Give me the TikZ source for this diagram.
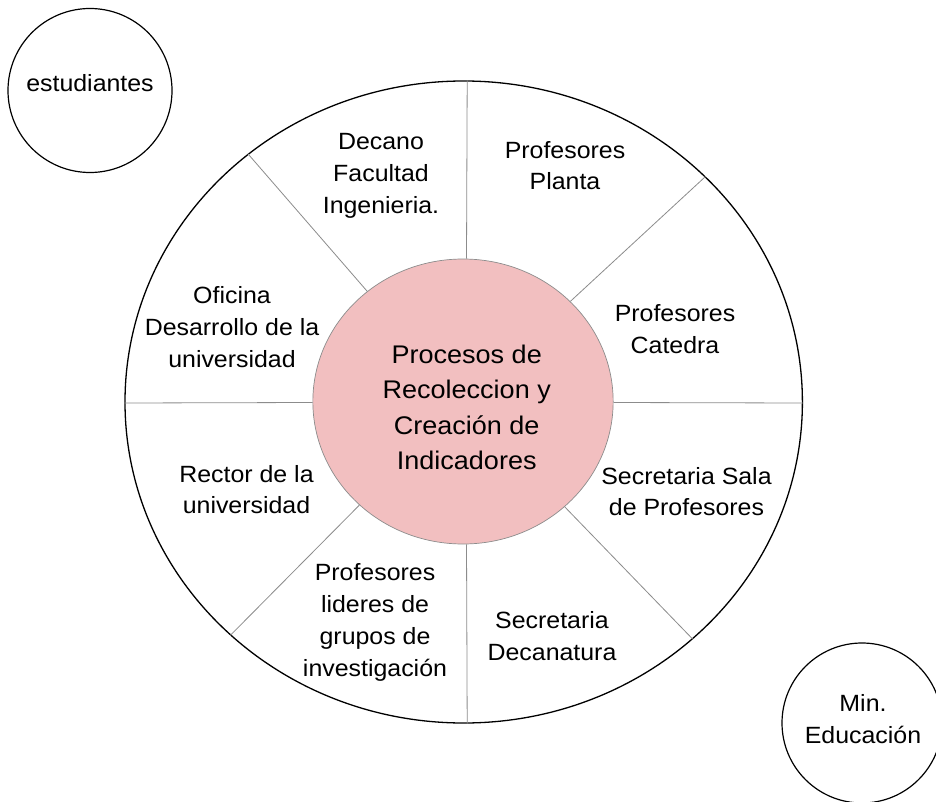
\documentclass[tikz,border=0pt]{standalone}
\usepackage{fontspec}
\setmainfont{Liberation Sans}[FakeStretch=1.06]
\usetikzlibrary{shapes.geometric}
\definecolor{pinkfill}{RGB}{242,191,192}
\definecolor{spokegray}{RGB}{140,140,140}
\tikzset{
  lbl/.style={anchor=base, align=center, inner sep=0pt, font=\fontsize{23.5pt}{31.7pt}\selectfont},
  ctr/.style={anchor=base, align=center, inner sep=0pt, font=\fontsize{25.5pt}{35.3pt}\selectfont},
  spoke/.style={draw=spokegray, line width=0.8pt},
  ring/.style={ellipse, draw=black, line width=1.3pt, inner sep=0pt},
  hub/.style={ellipse, draw=spokegray, line width=0.7pt, fill=pinkfill, inner sep=0pt},
  actor/.style={circle, draw=black, line width=1.2pt, inner sep=0pt}
}
\begin{document}
\begin{tikzpicture}[x=1pt,y=-1pt]
\useasboundingbox (0,0) rectangle (936,802);
\fill[white] (0,0) rectangle (936,802);
% outer ring
\node[ring, minimum width=677.4pt, minimum height=642pt] (outer) at (463.7,402) {};
% hub
\node[hub, minimum width=300.3pt, minimum height=285pt] (inner) at (463,401.5) {};
% spokes
\draw[spoke] ([xshift=3.5pt]inner.north) -- ([xshift=3.5pt]outer.north);
\draw[spoke] ([xshift=3.5pt]inner.south) -- ([xshift=3.5pt]outer.south);
\draw[spoke] ([yshift=-1pt]inner.west) -- ([yshift=-1pt]outer.west);
\draw[spoke] ([yshift=-1pt]inner.east) -- ([yshift=-1pt]outer.east);
\draw[spoke] (inner.131.7) -- (outer.131.7);
\draw[spoke] (inner.43.5) -- (outer.43.5);
\draw[spoke] (inner.-46.5) -- (outer.-46.5);
\draw[spoke] (inner.225.3) -- (outer.225.3);
% center text (base = last line)
\node[ctr] (ctext) at (466.7,469.3) {Procesos de\\Recoleccion y\\Creación de\\Indicadores};
% sector labels
\node[lbl] (dec) at (381,213.3) {Decano\\Facultad\\Ingenieria.};
\node[lbl] (pla) at (565,190) {Profesores\\Planta};
\node[lbl] (ofi) at (232,367) {Oficina\\Desarrollo de la\\universidad};
\node[lbl] (cat) at (675,353.6) {Profesores\\Catedra};
\node[lbl] (rec) at (246.5,513.7) {Rector de la\\universidad};
\node[lbl] (ssp) at (686.5,515.7) {Secretaria Sala\\de Profesores};
\node[lbl] (pli) at (375,676) {Profesores\\lideres de\\grupos de\\investigación};
\node[lbl] (sdc) at (552,660.5) {Secretaria\\Decanatura};
% outside actors
\node[actor, minimum size=164pt] (estc) at (90,90.5) {};
\node[lbl] (est) at (90,91.7) {estudiantes};
\node[actor, minimum size=160pt] (minc) at (862,723) {};
\node[lbl] (min) at (863,743.3) {Min.\\Educación};
\end{tikzpicture}
\end{document}
